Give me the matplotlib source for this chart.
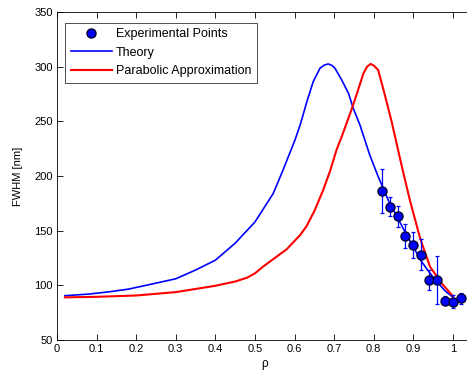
import matplotlib
matplotlib.use("Agg")
import matplotlib.pyplot as plt

# Experimental points
rho_exp = [0.82, 0.84, 0.86, 0.88, 0.90, 0.92, 0.94, 0.96, 0.98, 1.00, 1.02]
fwhm_exp = [186, 172, 163, 145, 137, 128, 105, 105, 86, 85, 88]
err_exp = [20, 9, 10, 11, 12, 14, 9, 22, 4, 6, 5]

# Theory curve (blue)
rho_th = [0.02, 0.08, 0.13, 0.18, 0.25, 0.30, 0.35, 0.40, 0.45, 0.50, 0.546,
          0.571, 0.601, 0.614, 0.631, 0.647, 0.664, 0.675, 0.685, 0.695, 0.702,
          0.719, 0.736, 0.748, 0.765, 0.79, 0.811, 0.84, 0.86, 0.88, 0.90,
          0.92, 0.94, 0.96, 0.98, 1.00]
fwhm_th = [90.5, 92, 94, 96.5, 102, 106, 114, 123, 138.6, 158, 184,
           205.6, 233, 246.7, 268, 286.3, 298.5, 301.5, 302.5, 301, 298.5,
           287.8, 275.7, 262, 246.7, 219, 199.5, 175, 162, 148, 135,
           122, 112, 103, 95, 89]

# Parabolic approximation (red)
rho_pa = [0.02, 0.10, 0.20, 0.30, 0.40, 0.45, 0.48, 0.50, 0.52, 0.55, 0.58,
          0.614, 0.63, 0.65, 0.672, 0.69, 0.706, 0.72, 0.731, 0.745, 0.757,
          0.774, 0.783, 0.792, 0.80, 0.811, 0.828, 0.845, 0.87, 0.891, 0.917,
          0.942, 0.971, 1.00]
fwhm_pa = [89, 89.5, 90.7, 93.8, 99.6, 103.5, 107, 111, 117, 125, 133,
           146, 154, 168, 187, 205, 224, 237, 248, 262, 275,
           294, 300, 302.5, 301, 297, 274, 249.8, 210, 178, 143,
           117, 102, 90]

plt.rcParams['font.family'] = ['Liberation Sans', 'DejaVu Sans']

fig = plt.figure(figsize=(4.67, 3.75), dpi=100)
ax = fig.add_axes([57 / 467, 1 - 340 / 375, (1.05 * 396) / 467, 328 / 375])

ax.plot(rho_exp, fwhm_exp, 'o', color='#0000ff', markeredgecolor='#000033',
        markersize=6.5, label='Experimental Points', zorder=4)
ax.errorbar(rho_exp, fwhm_exp, yerr=err_exp, fmt='none', ecolor='#0000ff',
            elinewidth=0.9, capsize=1.5, capthick=0.9, zorder=3)
ax.plot(rho_th, fwhm_th, '-', color='#0000ff', lw=1.2, label='Theory', zorder=2)
ax.plot(rho_pa, fwhm_pa, '-', color='#ff0000', lw=1.5,
        label='Parabolic Approximation', zorder=2)

ax.set_xlim(0, 1.05)
ax.set_ylim(50, 350)
ax.set_xticks([0, 0.1, 0.2, 0.3, 0.4, 0.5, 0.6, 0.7, 0.8, 0.9, 1])
ax.set_xticklabels(['0', '0.1', '0.2', '0.3', '0.4', '0.5', '0.6', '0.7', '0.8', '0.9', '1'])
ax.set_yticks([50, 100, 150, 200, 250, 300, 350])
ax.tick_params(direction='in', top=True, right=True, length=4, width=0.6,
               labelsize=8, pad=3)
for s in ax.spines.values():
    s.set_linewidth(0.6)

ax.set_xlabel('ρ', fontsize=8.5, labelpad=3)
ax.set_ylabel('FWHM [nm]', fontsize=8, labelpad=8)

leg = ax.legend(loc='upper left', bbox_to_anchor=(0.019, 0.967), fontsize=9,
                frameon=True, fancybox=False, edgecolor='black',
                borderpad=0.45, handlelength=3.3, handletextpad=0.3,
                labelspacing=0.5, borderaxespad=0)
leg.get_frame().set_linewidth(0.6)

fig.savefig('out.png', dpi=100)
